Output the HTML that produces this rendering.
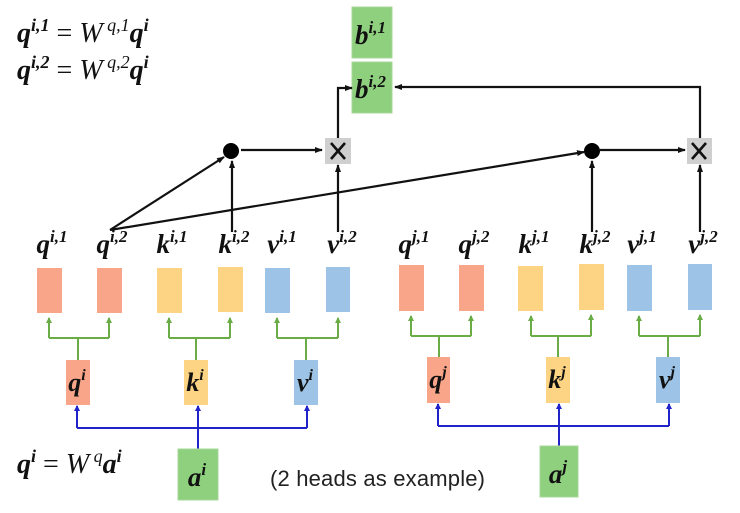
<!DOCTYPE html>
<html><head><meta charset="utf-8"><style>
html,body{margin:0;padding:0;background:#fff;}
svg{display:block;}
.m{font-family:"Liberation Serif",serif;font-style:italic;font-weight:bold;fill:#111;}
</style></head><body>
<svg width="740" height="513" viewBox="0 0 740 513" xmlns="http://www.w3.org/2000/svg">
<defs>
<marker id="ak" markerWidth="8" markerHeight="8" refX="7" refY="4" orient="auto" markerUnits="userSpaceOnUse"><path d="M0,1 L8,4 L0,7 z" fill="#111"/></marker>
<marker id="ag" markerWidth="6" markerHeight="6" refX="5" refY="3" orient="auto" markerUnits="userSpaceOnUse"><path d="M0,0 L6,3 L0,6 z" fill="#6aac46"/></marker>
<marker id="ab" markerWidth="6" markerHeight="6" refX="5" refY="3" orient="auto" markerUnits="userSpaceOnUse"><path d="M0,0 L6,3 L0,6 z" fill="#1f23c8"/></marker>
</defs>

<text x="17" y="42" class="m" font-size="28">q<tspan font-size="18" dy="-11">i,1</tspan><tspan dy="11" font-weight="normal" font-style="normal"> = </tspan><tspan font-weight="normal">W</tspan><tspan font-size="18" font-weight="normal" dy="-11"> q,1</tspan><tspan dy="11">q</tspan><tspan font-size="18" dy="-11">i</tspan></text>
<text x="17" y="79" class="m" font-size="28">q<tspan font-size="18" dy="-11">i,2</tspan><tspan dy="11" font-weight="normal" font-style="normal"> = </tspan><tspan font-weight="normal">W</tspan><tspan font-size="18" font-weight="normal" dy="-11"> q,2</tspan><tspan dy="11">q</tspan><tspan font-size="18" dy="-11">i</tspan></text>

<rect x="352" y="7" width="40" height="51" fill="#8fd07f" stroke="#a6d89a"/>
<rect x="352" y="62" width="40" height="51" fill="#8fd07f" stroke="#a6d89a"/>
<text x="355" y="44" class="m" font-size="27">b<tspan font-size="17" dy="-11">i,1</tspan></text>
<text x="355" y="98" class="m" font-size="27">b<tspan font-size="17" dy="-11">i,2</tspan></text>

<g stroke="#111" stroke-width="2.2" fill="none">
<line x1="110" y1="230" x2="224" y2="157" marker-end="url(#ak)"/>
<line x1="110" y1="230" x2="584" y2="152" marker-end="url(#ak)"/>
<line x1="232" y1="232" x2="232" y2="161" marker-end="url(#ak)"/>
<line x1="338" y1="232" x2="338" y2="165" marker-end="url(#ak)"/>
<line x1="592" y1="232" x2="592" y2="161" marker-end="url(#ak)"/>
<line x1="700" y1="232" x2="700" y2="165" marker-end="url(#ak)"/>
<line x1="241" y1="150" x2="322" y2="150" marker-end="url(#ak)"/>
<line x1="600" y1="150" x2="685" y2="150" marker-end="url(#ak)"/>
<polyline points="338,138 338,88 352,88" marker-end="url(#ak)"/>
<polyline points="700,138 700,87 395,87" marker-end="url(#ak)"/>
</g>
<circle cx="231" cy="151" r="8" fill="#000"/>
<circle cx="592" cy="151" r="8" fill="#000"/>
<rect x="325" y="138" width="26" height="26" fill="#cfcfcf"/>
<rect x="687" y="138" width="25" height="26" fill="#cfcfcf"/>
<g stroke="#111" stroke-width="2.6">
<line x1="331" y1="143" x2="345" y2="159"/><line x1="345" y1="143" x2="331" y2="159"/>
<line x1="692" y1="143" x2="706" y2="159"/><line x1="706" y1="143" x2="692" y2="159"/>
</g>

<g class="m" font-size="27" text-anchor="middle">
<text x="52" y="253">q<tspan font-size="17" dy="-11">i,1</tspan></text>
<text x="112" y="253">q<tspan font-size="17" dy="-11">i,2</tspan></text>
<text x="172" y="253">k<tspan font-size="17" dy="-11">i,1</tspan></text>
<text x="234" y="253">k<tspan font-size="17" dy="-11">i,2</tspan></text>
<text x="282" y="253">v<tspan font-size="17" dy="-11">i,1</tspan></text>
<text x="342" y="253">v<tspan font-size="17" dy="-11">i,2</tspan></text>
<text x="414" y="253">q<tspan font-size="17" dy="-11">j,1</tspan></text>
<text x="474" y="253">q<tspan font-size="17" dy="-11">j,2</tspan></text>
<text x="534" y="253">k<tspan font-size="17" dy="-11">j,1</tspan></text>
<text x="595" y="253">k<tspan font-size="17" dy="-11">j,2</tspan></text>
<text x="642" y="253">v<tspan font-size="17" dy="-11">j,1</tspan></text>
<text x="703" y="253">v<tspan font-size="17" dy="-11">j,2</tspan></text>
</g>

<g>
<rect x="37" y="268" width="25" height="45" fill="#f9a58a"/>
<rect x="97" y="268" width="25" height="45" fill="#f9a58a"/>
<rect x="157" y="268" width="25" height="45" fill="#fdd483"/>
<rect x="218" y="267" width="25" height="45" fill="#fdd483"/>
<rect x="265" y="268" width="25" height="45" fill="#9dc3e6"/>
<rect x="326" y="267" width="24" height="45" fill="#9dc3e6"/>
<rect x="399" y="265" width="25" height="46" fill="#f9a58a"/>
<rect x="459" y="265" width="25" height="46" fill="#f9a58a"/>
<rect x="518" y="266" width="25" height="45" fill="#fdd483"/>
<rect x="579" y="264" width="25" height="46" fill="#fdd483"/>
<rect x="627" y="265" width="25" height="46" fill="#9dc3e6"/>
<rect x="688" y="264" width="24" height="46" fill="#9dc3e6"/>
</g>

<g stroke="#6aac46" stroke-width="2" fill="none">
<polyline points="78,360 78,338"/><polyline points="49,338 109,338"/>
<line x1="49" y1="338" x2="49" y2="318" marker-end="url(#ag)"/><line x1="109" y1="338" x2="109" y2="318" marker-end="url(#ag)"/>
<polyline points="196,360 196,338"/><polyline points="169,338 230,338"/>
<line x1="169" y1="338" x2="169" y2="318" marker-end="url(#ag)"/><line x1="230" y1="338" x2="230" y2="318" marker-end="url(#ag)"/>
<polyline points="306,360 306,338"/><polyline points="277,338 338,338"/>
<line x1="277" y1="338" x2="277" y2="318" marker-end="url(#ag)"/><line x1="338" y1="338" x2="338" y2="318" marker-end="url(#ag)"/>
<polyline points="439,357 439,336"/><polyline points="411,336 471,336"/>
<line x1="411" y1="336" x2="411" y2="316" marker-end="url(#ag)"/><line x1="471" y1="336" x2="471" y2="316" marker-end="url(#ag)"/>
<polyline points="558,357 558,336"/><polyline points="531,336 591,336"/>
<line x1="531" y1="336" x2="531" y2="316" marker-end="url(#ag)"/><line x1="591" y1="336" x2="591" y2="315" marker-end="url(#ag)"/>
<polyline points="668,357 668,336"/><polyline points="639,336 700,336"/>
<line x1="639" y1="336" x2="639" y2="316" marker-end="url(#ag)"/><line x1="700" y1="336" x2="700" y2="315" marker-end="url(#ag)"/>
</g>

<rect x="66" y="360" width="24" height="45" fill="#f9a58a"/>
<rect x="184" y="360" width="24" height="45" fill="#fdd483"/>
<rect x="294" y="360" width="24" height="45" fill="#9dc3e6"/>
<rect x="427" y="357" width="23" height="46" fill="#f9a58a"/>
<rect x="546" y="357" width="24" height="46" fill="#fdd483"/>
<rect x="656" y="357" width="24" height="46" fill="#9dc3e6"/>
<g class="m" font-size="26" text-anchor="middle">
<text x="77" y="391">q<tspan font-size="16" dy="-11">i</tspan></text>
<text x="195" y="391">k<tspan font-size="16" dy="-11">i</tspan></text>
<text x="305" y="391">v<tspan font-size="16" dy="-11">i</tspan></text>
<text x="438" y="388">q<tspan font-size="16" dy="-11">j</tspan></text>
<text x="557" y="388">k<tspan font-size="16" dy="-11">j</tspan></text>
<text x="667" y="388">v<tspan font-size="16" dy="-11">j</tspan></text>
</g>

<g stroke="#1f23c8" stroke-width="2" fill="none">
<polyline points="77,428 307,428"/>
<line x1="198" y1="449" x2="198" y2="406" marker-end="url(#ab)"/>
<line x1="77" y1="428" x2="77" y2="406" marker-end="url(#ab)"/>
<line x1="307" y1="428" x2="307" y2="406" marker-end="url(#ab)"/>
<polyline points="438,426 669,426"/>
<line x1="559" y1="446" x2="559" y2="404" marker-end="url(#ab)"/>
<line x1="438" y1="426" x2="438" y2="404" marker-end="url(#ab)"/>
<line x1="669" y1="426" x2="669" y2="404" marker-end="url(#ab)"/>
</g>

<rect x="178" y="449" width="40" height="51" fill="#8fd07f" stroke="#a6d89a"/>
<rect x="540" y="446" width="38" height="51" fill="#8fd07f" stroke="#a6d89a"/>
<text x="197" y="486" class="m" font-size="27" text-anchor="middle">a<tspan font-size="17" dy="-11">i</tspan></text>
<text x="558" y="483" class="m" font-size="27" text-anchor="middle">a<tspan font-size="17" dy="-11">j</tspan></text>

<text x="17" y="473" class="m" font-size="28">q<tspan font-size="18" dy="-11">i</tspan><tspan dy="11" font-weight="normal" font-style="normal"> = </tspan><tspan font-weight="normal">W</tspan><tspan font-size="18" font-weight="normal" dy="-11"> q</tspan><tspan dy="11">a</tspan><tspan font-size="18" dy="-11">i</tspan></text>

<text x="270" y="486" font-family="Liberation Sans,sans-serif" font-size="22" fill="#222" textLength="215">(2 heads as example)</text>
</svg>
</body></html>
